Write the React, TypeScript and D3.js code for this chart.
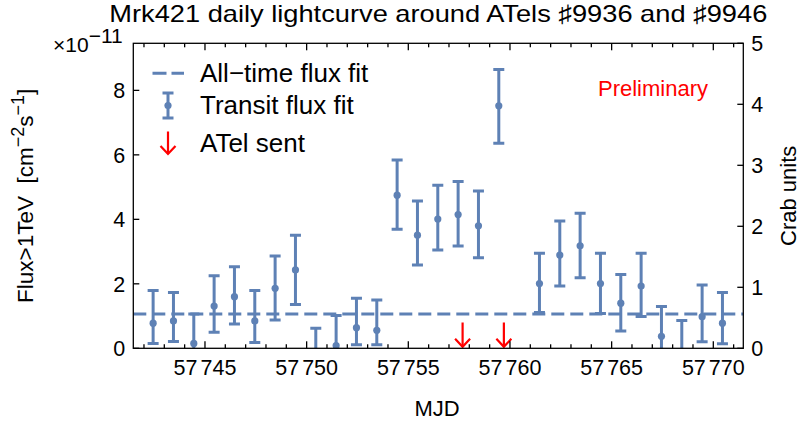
import React from "react";
import * as d3 from "d3";

// ---- data (flux in units of 1e-11 cm^-2 s^-1) ----
const mjd = [
  57742.45, 57743.45, 57744.45, 57745.45, 57746.45, 57747.45, 57748.45,
  57749.45, 57750.45, 57751.45, 57752.45, 57753.45, 57754.45, 57755.45,
  57756.45, 57757.45, 57758.45, 57759.45, 57761.45, 57762.45, 57763.45,
  57764.45, 57765.45, 57766.45, 57767.45, 57768.45, 57769.45, 57770.45,
];
const flux = [
  0.78, 0.85, 0.15, 1.31, 1.6, 0.85, 1.86, 2.43, -0.3, 0.08, 0.64, 0.56, 4.75,
  3.51, 4.01, 4.15, 3.8, 7.52, 2.01, 2.89, 3.18, 2.01, 1.4, 1.93, 0.37, -0.15,
  0.98, 0.78,
];
const fluxLow = [
  0.15, 0.21, -0.65, 0.5, 0.75, 0.18, 0.88, 1.36, -1.2, -0.8, 0.11, 0.11, 3.69,
  2.58, 3.05, 3.17, 2.81, 6.36, 1.11, 1.93, 2.19, 1.08, 0.54, 0.99, -0.5, -1.0,
  0.2, 0.14,
];
const fluxHigh = [
  1.79, 1.73, 1.06, 2.25, 2.53, 1.79, 2.86, 3.51, 0.62, 1.02, 1.55, 1.5, 5.84,
  4.57, 5.06, 5.17, 4.88, 8.65, 2.95, 3.95, 4.19, 2.95, 2.29, 2.95, 1.3, 0.86,
  1.96, 1.73,
];
const allTimeFlux = 1.06;
const atelMjd = [57757.67, 57759.7];
const atelArrowTop = 0.8;

const xMajorTicks = [57745, 57750, 57755, 57760, 57765, 57770];
const yLeftTicks = [0, 2, 4, 6, 8];
const yRightTicks = [0, 1, 2, 3, 4, 5];
const xDomain = [57741.475, 57771.475];
const yMax = 9.46; // = 5 Crab units
const crabMax = 5;

const BLUE = "#5E81B5";
const RED = "#FF0000";
const FONT = "'Liberation Sans', Arial, Helvetica, sans-serif";

export default function App() {
  const L = 133.3, R = 743.3, T = 43.3, B = 348.3;
  const x = d3.scaleLinear().domain(xDomain).range([L, R]);
  const y = d3.scaleLinear().domain([0, yMax]).range([B, T]);
  const yc = d3.scaleLinear().domain([0, crabMax]).range([B, T]);
  const minorTicks = x.ticks(30).filter((t) => !xMajorTicks.includes(t));
  const pts = mjd.map((m, i) => ({ m, f: flux[i], lo: fluxLow[i], hi: fluxHigh[i] }));
  const capW = 5.5;

  const arrow = (cx: number, y1: number, y2: number, key: string) => (
    <g key={key} stroke={RED} strokeWidth={2.2} fill="none">
      <line x1={cx} x2={cx} y1={y1} y2={y2} />
      <polyline points={`${cx - 7.5},${y2 - 8} ${cx},${y2} ${cx + 7.5},${y2 - 8}`} />
    </g>
  );

  return (
    <svg
      width={800}
      height={426}
      style={{ position: "absolute", left: 0, top: 0, background: "#fff" }}
      fontFamily={FONT}
    >
      <defs>
        <clipPath id="plot">
          <rect x={L} y={T} width={R - L} height={B - T} />
        </clipPath>
      </defs>
      <rect x={0} y={0} width={800} height={426} fill="#fff" />
      {/* title */}
      <text
        x={(L + R) / 2}
        y={22}
        fontSize={24}
        textAnchor="middle"
        fill="#000"
        textLength={658}
        lengthAdjust="spacingAndGlyphs"
      >
        Mrk421 daily lightcurve around ATels ♯9936 and ♯9946
      </text>

      {/* data */}
      <g clipPath="url(#plot)">
        <line
          x1={L}
          x2={R}
          y1={y(allTimeFlux)}
          y2={y(allTimeFlux)}
          stroke={BLUE}
          strokeWidth={3}
          strokeDasharray="13,6"
        />
        {pts.map((p, i) => (
          <g key={i} stroke={BLUE} strokeWidth={3}>
            <line x1={x(p.m)} x2={x(p.m)} y1={y(p.lo)} y2={y(p.hi)} />
            <line x1={x(p.m) - capW} x2={x(p.m) + capW} y1={y(p.lo)} y2={y(p.lo)} />
            <line x1={x(p.m) - capW} x2={x(p.m) + capW} y1={y(p.hi)} y2={y(p.hi)} />
            <circle cx={x(p.m)} cy={y(p.f)} r={3.6} fill={BLUE} stroke="none" />
          </g>
        ))}
        {atelMjd.map((m, i) => arrow(x(m), y(atelArrowTop), y(0) - 1.5, "a" + i))}
      </g>

      {/* frame & ticks */}
      <g stroke="#000" strokeWidth={1.3} fill="none">
        <rect x={L} y={T} width={R - L} height={B - T} />
        {xMajorTicks.map((t) => (
          <g key={"M" + t}>
            <line x1={x(t)} x2={x(t)} y1={B} y2={B - 7} />
            <line x1={x(t)} x2={x(t)} y1={T} y2={T + 7} />
          </g>
        ))}
        {minorTicks.map((t) => (
          <g key={"m" + t}>
            <line x1={x(t)} x2={x(t)} y1={B} y2={B - 4} />
            <line x1={x(t)} x2={x(t)} y1={T} y2={T + 4} />
          </g>
        ))}
        {yLeftTicks.map((t) => (
          <line key={"l" + t} x1={L} x2={L + 6} y1={y(t)} y2={y(t)} />
        ))}
        {yRightTicks.map((t) => (
          <line key={"r" + t} x1={R} x2={R - 6} y1={yc(t)} y2={yc(t)} />
        ))}
      </g>

      {/* tick labels */}
      <g fontSize={21.5} fill="#000">
        {xMajorTicks.map((t) => {
          const s = String(t);
          return (
            <text key={"xl" + t} x={x(t)} y={B + 27} textAnchor="middle">
              {s.slice(0, 2)}
              <tspan dx={3}>{s.slice(2)}</tspan>
            </text>
          );
        })}
        {yLeftTicks.map((t) => (
          <text key={"yl" + t} x={L - 8} y={y(t) + 7.7} textAnchor="end">
            {t}
          </text>
        ))}
        {yRightTicks.map((t) => (
          <text key={"yr" + t} x={R + 8} y={yc(t) + 7.7} textAnchor="start">
            {t}
          </text>
        ))}
      </g>

      {/* multiplier */}
      <text x={53} y={52} fontSize={21} fill="#000">
        ×10
        <tspan dy={-9}>−11</tspan>
      </text>

      {/* axis labels */}
      <text x={437} y={416} fontSize={22} textAnchor="middle" fill="#000">
        MJD
      </text>
      <text
        transform={`translate(33, ${(T + B) / 2}) rotate(-90)`}
        fontSize={22.5}
        textAnchor="middle"
        fill="#000"
      >
        Flux&gt;1TeV{"\u00a0\u00a0"}[cm
        <tspan dy={-9} fontSize={18}>−2</tspan>
        <tspan dy={9}>s</tspan>
        <tspan dy={-9} fontSize={18}>−1</tspan>
        <tspan dy={9}>]</tspan>
      </text>
      <text
        transform={`translate(796, ${(T + B) / 2}) rotate(-90)`}
        fontSize={22}
        textAnchor="middle"
        fill="#000"
      >
        Crab units
      </text>

      {/* legend */}
      <g>
        <line x1={152.5} x2={184} y1={73.3} y2={73.3} stroke={BLUE} strokeWidth={3} strokeDasharray="14,5" />
        <g stroke={BLUE} strokeWidth={3}>
          <line x1={168} x2={168} y1={93} y2={118} />
          <line x1={168 - capW} x2={168 + capW} y1={93} y2={93} />
          <line x1={168 - capW} x2={168 + capW} y1={118} y2={118} />
          <circle cx={168} cy={105.5} r={3.6} fill={BLUE} stroke="none" />
        </g>
        {arrow(168, 131.5, 154, "legArrow")}
        <g fontSize={26} fill="#000">
          <text x={200} y={82}>All−time flux fit</text>
          <text x={200} y={114}>Transit flux fit</text>
          <text x={200} y={151.5}>ATel sent</text>
        </g>
      </g>

      <text x={598} y={96} fontSize={22} fill={RED}>
        Preliminary
      </text>
    </svg>
  );
}
